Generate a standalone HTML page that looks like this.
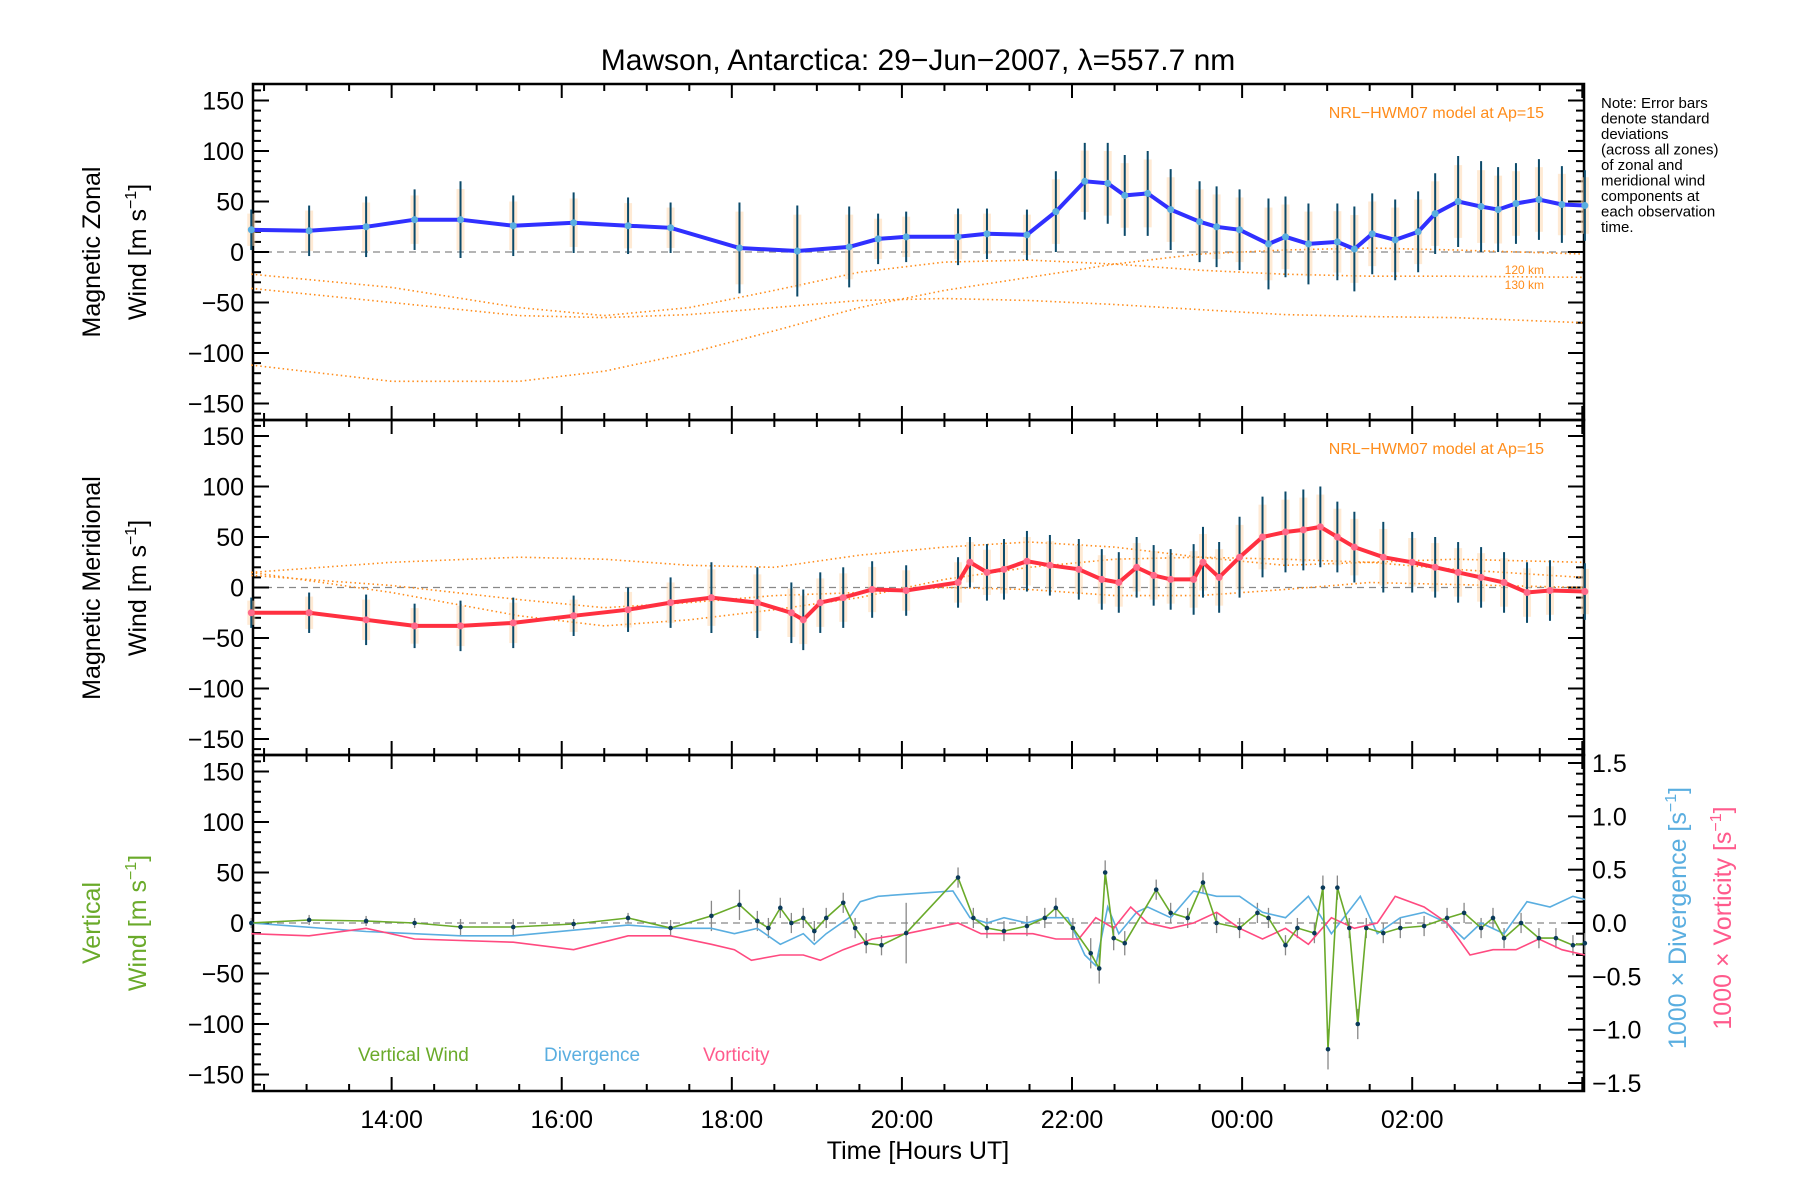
<!DOCTYPE html>
<html><head><meta charset="utf-8"><style>
html,body{margin:0;padding:0;background:#fff;width:1800px;height:1200px;overflow:hidden}
svg{display:block;font-family:"Liberation Sans",sans-serif}
</style></head><body>
<svg id="chart" width="1800" height="1200" viewBox="0 0 1800 1200">
<text x="918" y="70" font-size="30" text-anchor="middle">Mawson, Antarctica: 29−Jun−2007, λ=557.7 nm</text>
<g id="g"></g>
</svg>
<script>
// ---- data (hours UT, >24 = next day) ----
const zonalT=[12.35,13.03,13.7,14.27,14.81,15.43,16.14,16.78,17.28,18.09,18.77,19.38,19.72,20.05,20.66,21.0,21.47,21.81,22.15,22.42,22.62,22.89,23.16,23.5,23.7,23.97,24.31,24.51,24.78,25.12,25.32,25.53,25.8,26.07,26.27,26.54,26.81,27.01,27.22,27.49,27.76,28.03];
const zonalV=[22,21,25,32,32,26,29,26,24,4,1,5,13,15,15,18,17,40,70,68,56,58,42,30,25,22,8,15,8,10,3,18,12,20,38,50,45,42,48,52,47,46];
const zonalSig=[20,25,30,30,38,30,30,28,25,45,45,40,25,25,28,25,25,40,38,40,40,42,40,40,40,40,45,40,40,38,42,40,40,40,40,45,45,42,40,40,38,35];
const merT=[12.35,13.03,13.7,14.27,14.81,15.43,16.14,16.78,17.28,17.76,18.3,18.7,18.84,19.04,19.31,19.65,20.05,20.66,20.8,21.0,21.2,21.47,21.74,22.08,22.35,22.55,22.76,22.96,23.16,23.43,23.54,23.73,23.97,24.24,24.51,24.72,24.92,25.12,25.32,25.66,26.0,26.27,26.54,26.81,27.08,27.35,27.62,28.03];
const merV=[-25,-25,-32,-38,-38,-35,-28,-22,-15,-10,-15,-25,-32,-15,-10,-2,-3,5,25,15,18,26,22,18,8,5,20,12,8,8,25,10,30,50,55,57,60,50,40,30,25,20,15,10,5,-5,-3,-4];
const merSig=[15,20,25,22,25,25,20,22,25,35,35,30,30,30,30,28,25,25,25,28,30,30,30,30,30,30,30,30,30,35,35,35,40,40,40,40,40,35,35,35,30,30,30,30,30,30,30,28];
const vertT=[12.35,13.03,13.7,14.27,14.81,15.43,16.14,16.78,17.28,17.76,18.09,18.3,18.43,18.57,18.7,18.84,18.97,19.11,19.31,19.45,19.58,19.76,20.05,20.66,20.84,21.0,21.2,21.47,21.68,21.81,22.01,22.22,22.32,22.39,22.49,22.62,22.99,23.16,23.36,23.54,23.7,23.97,24.18,24.31,24.51,24.65,24.85,24.95,25.01,25.12,25.26,25.36,25.46,25.66,25.86,26.14,26.41,26.61,26.81,26.95,27.08,27.28,27.49,27.69,27.89,28.03];
const vertV=[0,3,2,0,-4,-4,-1,5,-5,7,18,2,-5,15,0,5,-8,5,20,-5,-20,-22,-10,45,5,-5,-8,-3,5,15,-5,-30,-45,50,-15,-20,33,10,5,40,0,-5,10,5,-22,-5,-10,35,-125,35,-5,-100,-5,-10,-5,-3,5,10,-5,5,-15,0,-15,-15,-22,-20];
const vertSig=[5,5,5,5,8,8,5,5,8,15,15,10,10,10,10,10,10,10,10,10,10,10,30,10,10,10,10,10,10,10,10,15,15,12,12,12,10,10,10,10,10,10,10,10,10,10,10,12,20,12,10,15,10,10,10,10,10,10,10,10,10,10,10,10,10,10];
const divT=[12.35,13.7,14.81,15.43,16.78,17.28,17.76,18.03,18.3,18.57,18.84,18.97,19.11,19.38,19.51,19.72,20.05,20.6,20.8,21.0,21.2,21.47,21.68,21.95,22.15,22.28,22.42,22.55,22.76,22.89,23.16,23.43,23.7,23.97,24.24,24.51,24.78,25.05,25.39,25.59,25.86,26.14,26.41,26.61,26.81,27.08,27.35,27.62,27.89,28.03];
const divV=[0,-0.08,-0.12,-0.12,-0.02,-0.05,-0.05,-0.1,-0.05,-0.2,-0.1,-0.2,-0.1,0.05,0.2,0.25,0.27,0.3,0.05,0,0.05,0,0.05,0.05,-0.3,-0.4,0.15,-0.1,0.1,0.15,0.05,0.3,0.25,0.25,0.1,0.05,0.25,-0.1,0.25,-0.1,0.05,0.1,0,-0.15,0,-0.1,0.2,0.15,0.25,0.22];
const vorT=[12.35,13.03,13.7,14.27,15.43,16.14,16.78,17.28,17.76,18.03,18.23,18.57,18.84,19.04,19.31,19.65,20.05,20.66,20.93,21.2,21.54,21.81,22.08,22.28,22.49,22.69,22.89,23.16,23.43,23.7,23.97,24.24,24.51,24.78,25.05,25.32,25.59,25.8,26.14,26.41,26.68,26.95,27.22,27.49,27.76,28.03];
const vorV=[-0.1,-0.12,-0.05,-0.15,-0.18,-0.25,-0.12,-0.12,-0.2,-0.25,-0.35,-0.3,-0.3,-0.35,-0.25,-0.15,-0.1,0,-0.1,-0.1,-0.1,-0.15,-0.15,0.05,-0.05,0.15,0,-0.05,0,0.1,-0.05,-0.15,-0.05,-0.2,0.05,-0.05,0,0.25,0.15,0,-0.3,-0.25,-0.25,-0.15,-0.25,-0.3];
const modelT1=[12.35,14,15.5,16.5,17.5,18.5,19.5,20.5,21.5,22.5,23.5,24.5,25.5,26.5,28];
const modelZA=[-22,-35,-55,-63,-55,-38,-20,-10,-8,-12,-18,-22,-24,-24,-25];
const modelZB=[-36,-50,-63,-65,-62,-55,-48,-46,-48,-52,-57,-62,-64,-65,-70];
const modelZC=[-112,-128,-128,-118,-100,-78,-55,-38,-25,-12,-2,2,4,2,-2];
const modelMA=[15,25,30,28,22,20,32,40,45,40,30,22,25,28,25];
const modelMB=[12,2,-12,-20,-15,-8,-5,0,-2,-8,-8,-2,5,3,0];
const modelMC=[15,-5,-28,-38,-32,-22,-10,8,20,28,30,28,25,18,10];
const xTicks=[14,16,18,20,22,24,26];
const xTickLabels=["14:00","16:00","18:00","20:00","22:00","00:00","02:00"];
const yTicks=[-150,-100,-50,0,50,100,150];
const rTicks=[-1.5,-1.0,-0.5,0.0,0.5,1.0,1.5];

const NS="http://www.w3.org/2000/svg";
const G=document.getElementById('g');
const L=253,R=1584;
const panels=[{top:84,bot:420},{top:420,bot:755},{top:755,bot:1091}];
const X0=12.37,X1=28.02;
function xs(h){return L+(h-X0)/(X1-X0)*(R-L);}
function ys(p,v){const P=panels[p];const c=(P.top+P.bot)/2;return c-v*(151.5/150);}
function yr(p,v){const P=panels[p];const c=(P.top+P.bot)/2;return c-v*(160/1.5);}
function mk(tag,attrs,parent){const e=document.createElementNS(NS,tag);for(const k in attrs)e.setAttribute(k,attrs[k]);(parent||G).appendChild(e);return e;}
function txt(x,y,s,attrs){const e=mk('text',Object.assign({x:x,y:y},attrs));e.textContent=s;return e;}

panels.forEach((P,i)=>{
  const f=mk('rect',{x:L,y:P.top,width:R-L,height:P.bot-P.top,fill:'none',stroke:'#000','stroke-width':2.5});
  
  
  const zl=mk('line',{x1:L,x2:R,y1:ys(i,0),y2:ys(i,0),stroke:'#888','stroke-width':1.3,'stroke-dasharray':'7,5'});
  
  
  for(let v=-160;v<=160;v+=10){
    const y=ys(i,v);const maj=(v%50===0);const len=maj?16:8;
    mk('line',{x1:L,x2:L+len,y1:y,y2:y,stroke:'#000','stroke-width':2});
    if(i<2) mk('line',{x1:R-len,x2:R,y1:y,y2:y,stroke:'#000','stroke-width':2});
  }
  yTicks.forEach(v=>{
    const t=txt(244,ys(i,v)+9,v<0?'−'+(-v):String(v),{'font-size':25,'text-anchor':'end'});
    
    
  });
  for(let h=12.5;h<=28;h+=0.5){
    const x=xs(h);const maj=(h%2===0);const len=maj?14:7;
    mk('line',{x1:x,x2:x,y1:P.bot-len,y2:P.bot,stroke:'#000','stroke-width':2});
    mk('line',{x1:x,x2:x,y1:P.top,y2:P.top+len,stroke:'#000','stroke-width':2});
  }
});
for(let v=-1.5;v<=1.501;v+=0.1){
  const y=yr(2,v);const maj=Math.abs(Math.round(v*10)%5)===0;const len=maj?16:8;
  mk('line',{x1:R-len,x2:R,y1:y,y2:y,stroke:'#000','stroke-width':2});
}
rTicks.forEach(v=>{
  const t=txt(1592,yr(2,v)+9,(v<0?'−':'')+Math.abs(v).toFixed(1),{'font-size':25});
  
  
});
xTicks.forEach((h,k)=>{
  const t=txt(xs(h),1128,xTickLabels[k],{'font-size':25,'text-anchor':'middle'});
  
  
});
{const t=txt(918,1159,'Time [Hours UT]',{'font-size':25,'text-anchor':'middle'});
}

function vtitle(x,y,s,color,name){
  const t=mk('text',{x:0,y:0,'font-size':25,'text-anchor':'middle',fill:color,transform:'translate('+x+','+y+') rotate(-90)'});
  t.innerHTML=s;
  
  
}
const unit='Wind [m s<tspan font-size="16" dy="-10">−1</tspan><tspan dy="10">]</tspan>';
vtitle(100,252,'Magnetic Zonal','#000','y-title-zonal');
vtitle(146,252,unit,'#000','y-title-zonal-unit');
vtitle(100,588,'Magnetic Meridional','#000','y-title-meridional');
vtitle(146,588,unit,'#000','y-title-meridional-unit');
vtitle(100,923,'Vertical','#6aaa2a','y-title-vertical');
vtitle(146,923,unit,'#6aaa2a','y-title-vertical-unit');
vtitle(1686,918,'1000 × Divergence [s<tspan font-size="16" dy="-10">−1</tspan><tspan dy="10">]</tspan>','#5aaee0','right-title-divergence');
vtitle(1731,918,'1000 × Vorticity [s<tspan font-size="16" dy="-10">−1</tspan><tspan dy="10">]</tspan>','#ff5a8c','right-title-vorticity');

["Note: Error bars","denote standard","deviations","(across all zones)","of zonal and","meridional wind","components at","each observation","time."].forEach((s,k)=>{
  const t=txt(1601,108+k*15.5,s,{'font-size':15});
  
  
});
[112,448].forEach((y,k)=>{
  const t=txt(1544,y+6,'NRL−HWM07 model at Ap=15',{'font-size':16,'text-anchor':'end',fill:'#ff8c1a'});
  
  
});
[['120 km',274],['130 km',289]].forEach(a=>{
  const t=txt(1544,a[1],a[0],{'font-size':12,'text-anchor':'end',fill:'#ff8c1a'});
  
  
});
[['Vertical Wind',358,'#6aaa2a'],['Divergence',544,'#5aaee0'],['Vorticity',703,'#ff5a8c']].forEach(a=>{
  const t=txt(a[1],1061,a[0],{'font-size':19,fill:a[2]});
  
  
});

function poly(p,T,V,scale,attrs,name){
  const pts=T.map((t,k)=>xs(t).toFixed(1)+','+(scale==='r'?yr(p,V[k]):ys(p,V[k])).toFixed(1)).join(' ');
  const e=mk('polyline',Object.assign({points:pts,fill:'none'},attrs));
  
  
  return e;
}
const mdl={stroke:'#ff8c1a','stroke-width':1.6,'stroke-dasharray':'1.5,3'};
poly(0,modelT1,modelZA,'l',mdl,'model-zonal-120km');
poly(0,modelT1,modelZB,'l',mdl,'model-zonal-130km');
poly(0,modelT1,modelZC,'l',mdl,'model-zonal-110km');
poly(1,modelT1,modelMA,'l',mdl,'model-meridional-120km');
poly(1,modelT1,modelMB,'l',mdl,'model-meridional-130km');
poly(1,modelT1,modelMC,'l',mdl,'model-meridional-110km');

function errbars(p,T,V,S,color,w,name){
  T.forEach((t,k)=>{
    const e=mk('line',{x1:xs(t),x2:xs(t),y1:ys(p,V[k]-S[k]),y2:ys(p,V[k]+S[k]),stroke:color,'stroke-width':w});
    
    
  });
}
function dots(p,T,V,color,r,name){
  T.forEach((t,k)=>{
    const e=mk('circle',{cx:xs(t),cy:ys(p,V[k]),r:r,fill:color});
    
    
  });
}
function spread(p,T,V,S,name){
  T.forEach((t,k)=>{
    const e=mk('rect',{x:xs(t)-4,y:ys(p,V[k]+S[k]*0.8),width:8,height:(S[k]*1.6)*(151.5/150),fill:'#ffd8b0',opacity:0.55});
    
    
  });
}
spread(0,zonalT,zonalV,zonalSig,'zonal-spread');
spread(1,merT,merV,merSig,'meridional-spread');
errbars(0,zonalT,zonalV,zonalSig,'#0b4a6a',2,'zonal-error-bar');
errbars(1,merT,merV,merSig,'#0b4a6a',2,'meridional-error-bar');
poly(0,zonalT,zonalV,'l',{stroke:'#3030ff','stroke-width':4},'zonal-wind-line');
dots(0,zonalT,zonalV,'#5aaee0',3.5,'zonal-point');
poly(1,merT,merV,'l',{stroke:'#ff3040','stroke-width':4},'meridional-wind-line');
dots(1,merT,merV,'#ff6a8a',3.5,'meridional-point');
errbars(2,vertT,vertV,vertSig,'#888',1.3,'vertical-error-bar');
poly(2,divT,divV,'r',{stroke:'#5aaee0','stroke-width':1.6},'divergence-line');
poly(2,vorT,vorV,'r',{stroke:'#ff4a80','stroke-width':1.6},'vorticity-line');
poly(2,vertT,vertV,'l',{stroke:'#6aaa2a','stroke-width':1.6},'vertical-wind-line');
dots(2,vertT,vertV,'#0b3a5a',2.3,'vertical-point');
</script>
</body></html>
